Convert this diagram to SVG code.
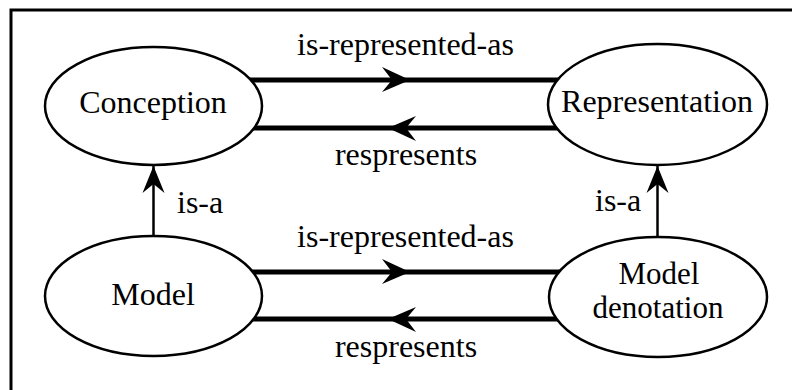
<svg xmlns="http://www.w3.org/2000/svg" width="792" height="390" viewBox="0 0 792 390">
<style>
text{font-family:"Liberation Serif","Times New Roman",serif;font-size:32px;fill:#000}
.c{text-anchor:middle}
.node ellipse{fill:#fff;stroke:#000;stroke-width:2.5}
.thick{fill:none;stroke:#000;stroke-width:5;marker-mid:url(#ah)}
.thin{fill:none;stroke:#000;stroke-width:2.5;marker-end:url(#ah2)}
</style>
<defs>
<marker id="ah" markerUnits="userSpaceOnUse" viewBox="-30 -14 32 28" refX="0" refY="0" markerWidth="32" markerHeight="28" orient="auto" overflow="visible">
<path d="M0,0 L-28,-13 L-18,0 L-28,12 Z" fill="#000"/>
</marker>
<marker id="ah2" markerUnits="userSpaceOnUse" viewBox="-30 -14 32 28" refX="0" refY="0" markerWidth="32" markerHeight="28" orient="auto" overflow="visible">
<path d="M0,0 L-27,-11 L-18,0 L-27,11 Z" fill="#000"/>
</marker>
</defs>
<rect x="11" y="10" width="800" height="400" fill="none" stroke="#000" stroke-width="3"/>
<g id="connectors">
<path class="thick" d="M200,80 L410,80 L610,80"/>
<path class="thick" d="M610,128 L388,128 L200,128"/>
<path class="thick" d="M200,272 L410,272 L610,272"/>
<path class="thick" d="M610,319 L388,319 L200,319"/>
<path class="thin" d="M153.5,237 L153.5,166"/>
<path class="thin" d="M657.5,238 L657.5,166"/>
<text class="c" x="405.5" y="55">is-represented-as</text>
<text class="c" x="406" y="165">respresents</text>
<text class="c" x="405.5" y="247">is-represented-as</text>
<text class="c" x="406" y="357">respresents</text>
<text x="177" y="213">is-a</text>
<text x="595" y="211">is-a</text>
</g>
<g id="conception" class="node">
<ellipse cx="153.5" cy="106" rx="108.5" ry="59"/>
<text class="c" x="153" y="113">Conception</text>
</g>
<g id="representation" class="node">
<ellipse cx="657.5" cy="104.5" rx="109.5" ry="60.5"/>
<text class="c" x="657" y="112">Representation</text>
</g>
<g id="model" class="node">
<ellipse cx="153.5" cy="296" rx="108.5" ry="60"/>
<text class="c" x="153" y="305">Model</text>
</g>
<g id="model-denotation" class="node">
<ellipse cx="658" cy="297" rx="109" ry="60"/>
<text class="c" x="659" y="284" style="font-size:31px">Model</text>
<text class="c" x="658" y="318" style="font-size:31px">denotation</text>
</g>
</svg>
